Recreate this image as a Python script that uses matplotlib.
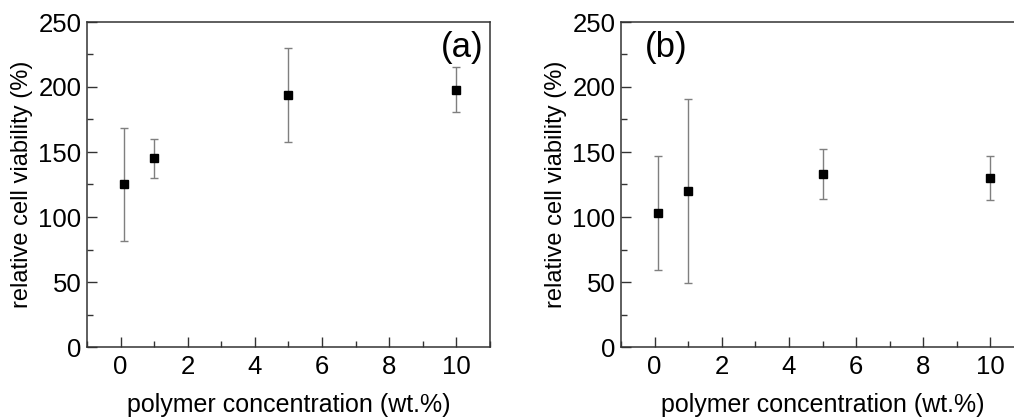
import matplotlib
matplotlib.use("Agg")
import matplotlib.pyplot as plt

plt.rcParams['font.family'] = ['Liberation Sans', 'DejaVu Sans']

conc = [0.1, 1, 5, 10]
viab_a = [125, 145, 194, 198]
err_a = [43.5, 15, 36, 17]
viab_b = [103, 120, 133, 130]
err_b = [43.6, 71, 19, 16.7]

xlabel = "polymer concentration (wt.%)"
ylabel = "relative cell viability (%)"

fig = plt.figure(figsize=(10.14, 4.19), dpi=100)
W, H = 1014, 419
def ax_at(left, right, top, bottom):
    return fig.add_axes([left / W, (H - bottom) / H, (right - left) / W, (bottom - top) / H])

ax_a = ax_at(87, 490, 22, 347)
ax_b = ax_at(621, 1024, 22, 347)

for ax, y, e, tag, tagx, ha in [(ax_a, viab_a, err_a, "(a)", 0.985, 'right'),
                               (ax_b, viab_b, err_b, "(b)", 0.06, 'left')]:
    ax.errorbar(conc, y, yerr=e, fmt='s', color='black', ms=5.2,
                ecolor='#7f7f7f', elinewidth=1.0, capsize=3, capthick=1.0)
    ax.set_xlim(-1, 11)
    ax.set_ylim(0, 250)
    ax.set_xticks([0, 2, 4, 6, 8, 10])
    ax.set_xticks(range(-1, 12), minor=True)
    ax.set_yticks([0, 50, 100, 150, 200, 250])
    ax.set_yticks(range(0, 251, 25), minor=True)
    ax.tick_params(which='major', direction='in', length=7, width=1, labelsize=18.5,
                   color='#333333', pad=6)
    ax.tick_params(which='minor', direction='in', length=4, width=1, color='#333333')
    ax.tick_params(axis='y', pad=4)
    for s in ax.spines.values():
        s.set_linewidth(1.1)
        s.set_color('#333333')
    ax.set_xlabel(xlabel, fontsize=18, labelpad=10)
    ax.set_ylabel(ylabel, fontsize=17, labelpad=4)
    ax.text(tagx, 0.92, tag, transform=ax.transAxes, fontsize=25, ha=ha, va='center')

fig.savefig("out.png", dpi=100)
